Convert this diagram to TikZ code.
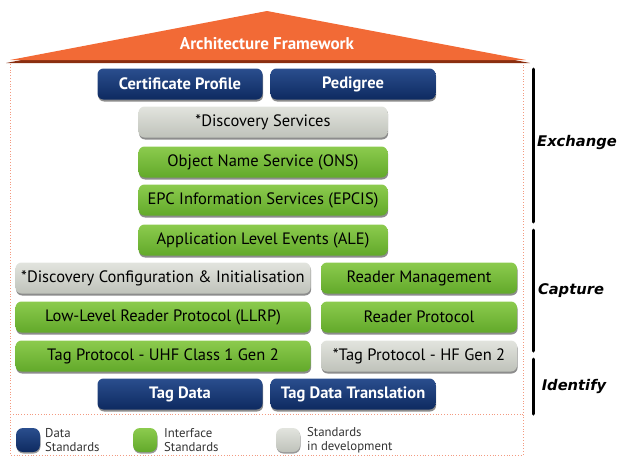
\documentclass[tikz,border=0pt]{standalone}
\usepackage{fontspec}
\setmainfont{PT Sans}
\newfontfamily\labfont{DejaVu Sans}
\usetikzlibrary{shadows}
\definecolor{navyT}{HTML}{2A4E8E}
\definecolor{navyB}{HTML}{0E2A60}
\definecolor{greenT}{HTML}{8CCB4E}
\definecolor{greenB}{HTML}{62A92A}
\definecolor{greyT}{HTML}{E2E4DE}
\definecolor{greyB}{HTML}{BFC2BA}
\definecolor{roof}{HTML}{F26A36}
\definecolor{roofdark}{HTML}{8A2E10}
\definecolor{dotc}{HTML}{F39A80}
\tikzset{
  box/.style={rounded corners=6pt, minimum height=31pt, inner sep=0pt, anchor=center,
    drop shadow={shadow xshift=0.6pt, shadow yshift=-2pt, fill=black, opacity=0.45}},
  databox/.style={box, top color=navyT, bottom color=navyB, text=white, font=\fontsize{16.5}{18}\selectfont\bfseries},
  ifbox/.style={box, top color=greenT, bottom color=greenB, text=black, font=\fontsize{16.5}{18}\selectfont},
  devbox/.style={box, top color=greyT, bottom color=greyB, text=black, font=\fontsize{16.5}{18}\selectfont},
  wide/.style={minimum width=295pt},
  rside/.style={minimum width=196pt},
  mid/.style={minimum width=249pt},
  dat/.style={minimum width=165pt},
  sqbox/.style={rounded corners=7pt, minimum width=24pt, minimum height=24pt, inner sep=0pt,
    drop shadow={shadow xshift=0.5pt, shadow yshift=-1.5pt, fill=black, opacity=0.4}},
  legtxt/.style={anchor=west, align=left, font=\fontsize{12.8}{14.5}\selectfont, text=black!80, inner sep=0pt},
  layer/.style={font=\labfont\fontsize{14.7}{16}\selectfont\bfseries\itshape, inner sep=0pt},
  bracket/.style={line width=3pt, line cap=round, black},
  dotline/.style={dotc, dotted, line width=0.8pt}
}
\begin{document}
\begin{tikzpicture}[x=1pt,y=-1pt]
\useasboundingbox (0,0) rectangle (619,464);
% roof
\fill[roofdark] (6,63) -- (267,13) -- (530,63) -- cycle;
\fill[roof] (10,60) -- (267,11) -- (526,60) -- cycle;
\node[text=white, font=\fontsize{17}{19}\selectfont\bfseries] (roofl) at (267,44) {Architecture Framework};
% dotted frame
\draw[dotline] (10,64) -- (10,455) -- (523,455) -- (523,64);
\draw[dotline] (10,414) -- (523,414);
% boxes
\node[databox,dat] (cert) at (180,84) {Certificate Profile};
\node[databox,dat] (ped) at (353,84) {Pedigree};
\node[devbox,mid] (ds) at (263,122) {*Discovery Services};
\node[ifbox,mid] (ons) at (263,162) {Object Name Service (ONS)};
\node[ifbox,mid] (epcis) at (263,200) {EPC Information Services (EPCIS)};
\node[ifbox,mid] (ale) at (263,240) {Application Level Events (ALE)};
\node[devbox,wide] (dci) at (163,278) {*Discovery Configuration \& Initialisation};
\node[ifbox,rside] (rm) at (419,278) {Reader Management};
\node[ifbox,wide] (llrp) at (163,317) {Low-Level Reader Protocol (LLRP)};
\node[ifbox,rside] (rp) at (419,317) {Reader Protocol};
\node[ifbox,wide] (uhf) at (163,356) {Tag Protocol - UHF Class 1 Gen 2};
\node[devbox,rside] (hf) at (419,356) {*Tag Protocol - HF Gen 2};
\node[databox,dat] (td) at (180,394) {Tag Data};
\node[databox,dat] (tdt) at (353,394) {Tag Data Translation};
% brackets
\draw[bracket] (533,69) -- (533,222);
\draw[bracket] (533,230) -- (533,351);
\draw[bracket] (533,359) -- (533,414);
\node[layer] (ex) at (577,142) {Exchange};
\node[layer] (cap) at (571,291) {Capture};
\node[layer] (idf) at (574,386) {Identify};
% legend
\node[sqbox, top color=navyT, bottom color=navyB] (l1) at (28,440) {};
\node[legtxt] (l1t) at (45,440) {Data\\Standards};
\node[sqbox, top color=greenT, bottom color=greenB] (l2) at (145,440) {};
\node[legtxt] (l2t) at (164,440) {Interface\\Standards};
\node[sqbox, top color=greyT, bottom color=greyB] (l3) at (288,440) {};
\node[legtxt] (l3t) at (307,440) {Standards\\in development};
\end{tikzpicture}
\end{document}
